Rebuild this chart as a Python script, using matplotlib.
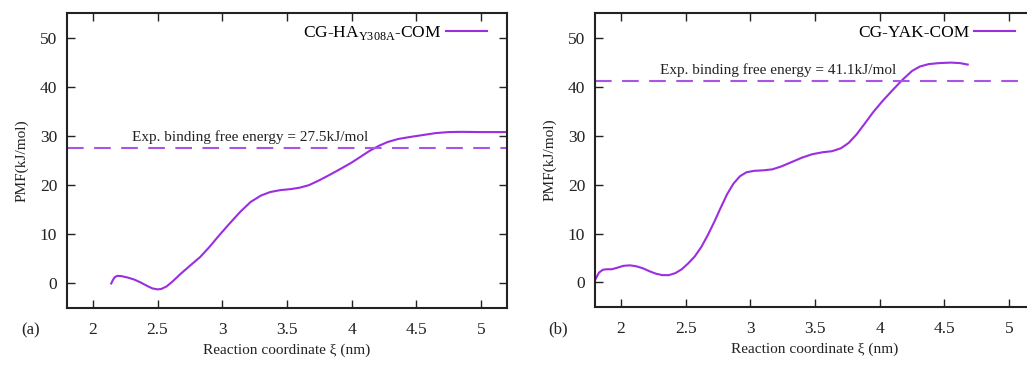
import matplotlib
matplotlib.use('Agg')
import matplotlib.pyplot as plt
import numpy as np

plt.rcParams['font.family'] = ['Liberation Serif', 'DejaVu Serif']
plt.rcParams['mathtext.fontset'] = 'custom'
plt.rcParams['mathtext.rm'] = 'Liberation Serif'

# panel (a): CG-HA Y308A
xa = [2.142, 2.155, 2.17, 2.19, 2.22, 2.27, 2.32, 2.37, 2.42, 2.46, 2.50, 2.53,
      2.57, 2.62, 2.68, 2.75, 2.83, 2.90, 2.97, 3.05, 3.14, 3.22, 3.30, 3.37,
      3.45, 3.53, 3.60, 3.67, 3.75, 3.83, 3.92, 4.00, 4.07, 4.14, 4.21, 4.28,
      4.36, 4.45, 4.55, 4.65, 4.75, 4.85, 5.0, 5.2]
ya = [0.0, 0.7, 1.3, 1.55, 1.5, 1.2, 0.8, 0.2, -0.5, -1.0, -1.2, -1.1,
      -0.6, 0.5, 2.0, 3.6, 5.4, 7.4, 9.6, 12.0, 14.6, 16.6, 17.9, 18.6,
      19.0, 19.2, 19.5, 20.0, 21.0, 22.1, 23.4, 24.6, 25.8, 27.0, 28.0, 28.8,
      29.4, 29.8, 30.2, 30.6, 30.8, 30.85, 30.8, 30.8]
exp_a = 27.5

# panel (b): CG-YAK
xb = [1.79, 1.81, 1.83, 1.86, 1.89, 1.93, 1.97, 2.02, 2.07, 2.12, 2.17, 2.22,
      2.27, 2.32, 2.37, 2.42, 2.47, 2.52, 2.57, 2.62, 2.67, 2.72, 2.77, 2.82,
      2.87, 2.92, 2.97, 3.03, 3.10, 3.17, 3.24, 3.32, 3.40, 3.48, 3.56, 3.63,
      3.70, 3.76, 3.82, 3.88, 3.95, 4.02, 4.10, 4.18, 4.25, 4.31, 4.38, 4.46,
      4.55, 4.62, 4.68]
yb = [0.0, 1.0, 2.0, 2.6, 2.7, 2.7, 3.0, 3.4, 3.5, 3.3, 2.9, 2.3,
      1.8, 1.5, 1.5, 1.9, 2.7, 3.9, 5.3, 7.2, 9.6, 12.3, 15.2, 18.0,
      20.2, 21.7, 22.5, 22.8, 22.9, 23.1, 23.7, 24.6, 25.5, 26.2, 26.6, 26.8,
      27.4, 28.5, 30.2, 32.3, 34.8, 37.0, 39.3, 41.5, 43.2, 44.1, 44.6, 44.8,
      44.9, 44.8, 44.5]
exp_b = 41.1

labels = [r'CG-HA$_{\mathrm{Y308A}}$-COM', 'CG-YAK-COM']
panels = ['(a)', '(b)']
xticks = [2, 2.5, 3, 3.5, 4, 4.5, 5]
yticks = [0, 10, 20, 30, 40, 50]

col = '#9a2ee0'
dcol = '#a855e6'
fig = plt.figure(figsize=(10.27, 3.65), dpi=100)
ax1 = fig.add_axes([0.0652, 0.156, 0.4284, 0.808])
ax2 = fig.add_axes([0.5794, 0.159, 0.4284, 0.805])

for ax, x, y, e, lab, p in zip([ax1, ax2], [xa, xb], [ya, yb], [exp_a, exp_b], labels, panels):
    ax.plot(x, y, color=col, lw=1.5, label=lab)
    ax.axhline(e, color=dcol, lw=1.5, ls=(0, (8, 5)))
    ax.text(2.30, e + 2.3, 'Exp. binding free energy = %.1fkJ/mol' % e,
            fontsize=11, va='center', color='#222222')
    ax.set_xlim(1.8, 5.2)
    ax.set_ylim(-5, 55)
    ax.set_xticks(xticks)
    ax.set_xticklabels(['2', '2.5', '3', '3.5', '4', '4.5', '5'])
    ax.set_yticks(yticks)
    ax.tick_params(direction='in', top=True, right=True, length=6, width=1,
                   labelsize=12.5, colors='#222222')
    ax.tick_params(axis='x', pad=10)
    ax.tick_params(axis='y', pad=7)
    for s in ax.spines.values():
        s.set_linewidth(1.5)
        s.set_color('#222222')
    ax.set_xlabel('Reaction coordinate ξ (nm)', fontsize=11, color='#222222', labelpad=4)
    ax.set_ylabel('PMF(kJ/mol)', fontsize=11, color='#222222', labelpad=8)
    ax.text(-0.083, -0.075, p, transform=ax.transAxes, fontsize=12,
            va='center', ha='center', color='#222222')
    ax.legend(loc='upper right', bbox_to_anchor=(0.98, 1.0), frameon=False,
              fontsize=12.5, handlelength=2.35, markerfirst=False,
              borderaxespad=0.25, handletextpad=0.25)

plt.savefig('out.png', dpi=100)
